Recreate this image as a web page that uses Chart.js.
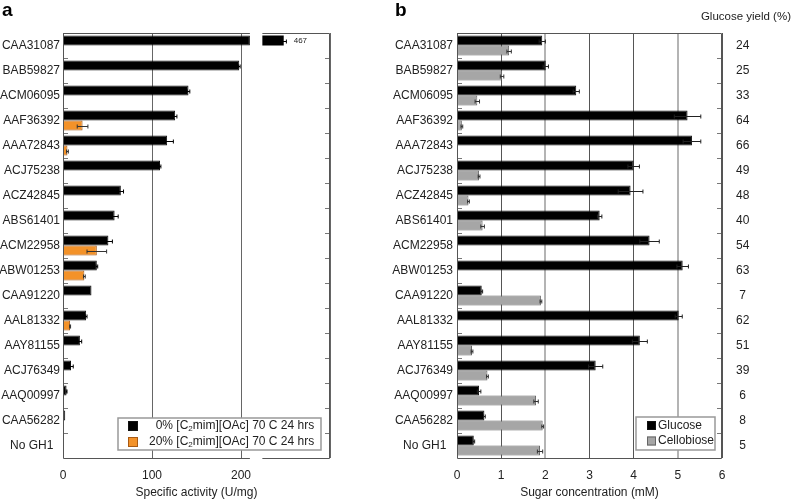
<!DOCTYPE html>
<html>
<head>
<meta charset="utf-8">
<script src="https://cdn.jsdelivr.net/npm/chart.js@4.4.1/dist/chart.umd.min.js"></script>
<style>
  html, body { margin: 0; padding: 0; background: #fff; }
  #wrap { position: relative; width: 794px; height: 500px; }
  canvas { position: absolute; top: 0; }
  #chartA { left: 0; }
  #chartB { left: 392px; }
</style>
</head>
<body>
<div id="wrap">
  <canvas id="chartA" width="392" height="500"></canvas>
  <canvas id="chartB" width="402" height="500"></canvas>
</div>
<script>
// data
const categories = ['CAA31087', 'BAB59827', 'ACM06095', 'AAF36392', 'AAA72843', 'ACJ75238',
  'ACZ42845', 'ABS61401', 'ACM22958', 'ABW01253', 'CAA91220', 'AAL81332', 'AAY81155',
  'ACJ76349', 'AAQ00997', 'CAA56282', 'No GH1'];

// panel a: specific activity (U/mg)
const activity0 = [467, 198, 141, 126, 117, 109, 65, 58, 51, 38, 32, 26, 19, 9, 4, 2.5, 0];
const err0 = [3, 1, 1.5, 2, 7, 1, 3, 4, 4.5, 1, 0, 1, 2, 2.5, 0.5, 0, 0];
const activity20 = [0, 0, 0, 22, 5, 0, 0, 0, 38, 24, 0, 8, 0, 0, 0, 0, 0];
const err20 = [0, 0, 0, 6, 1, 0, 0, 0, 11, 1, 0, 0.5, 0, 0, 0, 0, 0];
const ticksA = [0, 100, 200];
const legendA = ['0% [C₂mim][OAc] 70 C 24 hrs', '20% [C₂mim][OAc] 70 C 24 hrs'];

// panel b: sugar concentration (mM)
const glucose = [1.93, 2.01, 2.70, 5.22, 5.32, 4.00, 3.93, 3.23, 4.36, 5.11, 0.56, 5.02, 4.14, 3.14, 0.50, 0.62, 0.38];
const errGlucose = [0.07, 0.06, 0.07, 0.30, 0.20, 0.13, 0.28, 0.05, 0.22, 0.13, 0.02, 0.08, 0.17, 0.16, 0.04, 0.02, 0.02];
const cellobiose = [1.18, 1.02, 0.46, 0.11, 0, 0.50, 0.26, 0.58, 0, 0, 1.90, 0, 0.34, 0.69, 1.79, 1.94, 1.88];
const errCellobiose = [0.05, 0.04, 0.05, 0.02, 0, 0.02, 0.02, 0.04, 0, 0, 0.02, 0, 0.02, 0.02, 0.05, 0.02, 0.06];
const glucoseYield = ['24', '25', '33', '64', '66', '49', '48', '40', '54', '63', '7', '62', '51', '39', '6', '8', '5'];
const legendB = ['Glucose', 'Cellobiose'];

// axis break on panel a
const breakLow = 210, breakTo = 224, breakResume = 443;
const shown = v => v > breakLow ? breakTo + v - breakResume : v;

const FONT = '"Liberation Sans", Arial, sans-serif';
Chart.defaults.font.family = FONT;
Chart.defaults.font.size = 12;
Chart.defaults.color = '#222';

const colorsA = ['#000000', '#f39229'];
const edgesA = ['#111111', '#a85a14'];
const colorsB = ['#000000', '#a6a6a6'];
const edgesB = ['#111111', '#666666'];

function padLabel(v) {
  const l = this.getLabelForValue(v);
  return l === 'No GH1' ? l + '  ' : l;
}

function drawErrorBars(chart, sets) {
  const { ctx } = chart;
  const xs = chart.scales.x;
  ctx.save();
  ctx.lineWidth = 1;
  sets.forEach(s => {
    const meta = chart.getDatasetMeta(s.index);
    ctx.strokeStyle = s.color;
    meta.data.forEach((bar, i) => {
      const e = s.errors[i];
      if (!e || !s.values[i]) return;
      const c = s.map ? s.map(s.values[i]) : s.values[i];
      const x1 = xs.getPixelForValue(c - e), x2 = xs.getPixelForValue(c + e);
      const y = Math.round(bar.y) + 0.5;
      ctx.beginPath();
      ctx.moveTo(x1, y); ctx.lineTo(x2, y);
      ctx.moveTo(x1, y - 2); ctx.lineTo(x1, y + 2);
      ctx.moveTo(x2, y - 2); ctx.lineTo(x2, y + 2);
      ctx.stroke();
    });
  });
  ctx.restore();
}

function drawRowTicks(chart) {
  const { ctx, chartArea: a } = chart;
  const y = chart.scales.y;
  ctx.save();
  ctx.strokeStyle = '#777';
  ctx.lineWidth = 1;
  for (let i = 0; i < categories.length - 1; i++) {
    const yy = Math.round((y.getPixelForValue(i) + y.getPixelForValue(i + 1)) / 2) + 0.5;
    ctx.beginPath();
    ctx.moveTo(a.left, yy); ctx.lineTo(a.left + 5, yy);
    ctx.moveTo(a.right - 5, yy); ctx.lineTo(a.right, yy);
    ctx.stroke();
  }
  ctx.restore();
}

function drawFrame(chart, gap) {
  const { ctx, chartArea: a } = chart;
  const L = Math.round(a.left) + 0.5, R = Math.round(a.right) - 0.5;
  const T = Math.round(a.top) + 0.5, B = Math.round(a.bottom) + 0.5;
  ctx.save();
  ctx.strokeStyle = '#555';
  ctx.lineWidth = 1;
  ctx.beginPath();
  ctx.moveTo(L, T); ctx.lineTo(L, B);
  ctx.moveTo(R, T); ctx.lineTo(R, B);
  if (gap) {
    ctx.moveTo(L, T); ctx.lineTo(gap[0], T);
    ctx.moveTo(gap[1], T); ctx.lineTo(R, T);
    ctx.moveTo(L, B); ctx.lineTo(gap[0], B);
    ctx.moveTo(gap[1], B); ctx.lineTo(R, B);
  } else {
    ctx.moveTo(L, T); ctx.lineTo(R, T);
    ctx.moveTo(L, B); ctx.lineTo(R, B);
  }
  ctx.stroke();
  ctx.restore();
}

// text with a subscript 2
function subText(ctx, text, x, y, size) {
  const parts = text.split('₂');
  ctx.textBaseline = 'middle';
  ctx.textAlign = 'left';
  parts.forEach((p, k) => {
    ctx.font = size + 'px ' + FONT;
    ctx.fillText(p, x, y);
    x += ctx.measureText(p).width;
    if (k < parts.length - 1) {
      ctx.font = Math.round(size * 0.65) + 'px ' + FONT;
      ctx.fillText('2', x, y + 3);
      x += ctx.measureText('2').width;
    }
  });
}

function legendBox(ctx, x, y, w, h) {
  ctx.fillStyle = '#fff';
  ctx.fillRect(x, y, w, h);
  ctx.strokeStyle = '#999';
  ctx.lineWidth = 1.5;
  ctx.strokeRect(x, y, w, h);
}

const panelA = {
  id: 'panelA',
  afterDatasetsDraw(chart) {
    const { ctx, chartArea: a } = chart;
    const xs = chart.scales.x;
    const meta = chart.getDatasetMeta(0);
    // part of the bar beyond the axis break
    activity0.forEach((v, i) => {
      if (v <= breakLow) return;
      const bar = meta.data[i];
      const x1 = xs.getPixelForValue(breakTo), x2 = xs.getPixelForValue(shown(v));
      ctx.fillStyle = colorsA[0];
      ctx.fillRect(x1, bar.y - bar.height / 2, x2 - x1, bar.height);
      ctx.font = '8px ' + FONT;
      ctx.fillStyle = '#222';
      ctx.textAlign = 'left';
      ctx.textBaseline = 'middle';
      ctx.fillText(String(v), x2 + 10, bar.y);
    });
    drawErrorBars(chart, [
      { index: 0, values: activity0, errors: err0, color: '#000', map: shown },
      { index: 1, values: activity20, errors: err20, color: '#333' }
    ]);
    drawRowTicks(chart);
    drawFrame(chart, [xs.getPixelForValue(breakLow), xs.getPixelForValue(breakTo)]);

    // legend
    const w = 203, h = 32;
    const bx = a.right - 9 - w, by = a.bottom - 8 - h;
    ctx.save();
    legendBox(ctx, bx, by, w, h);
    ctx.font = '12px ' + FONT;
    const widest = ctx.measureText(legendA[1].split(' ')[0]).width;
    legendA.forEach((label, i) => {
      const cy = by + 8 + i * 16;
      ctx.fillStyle = colorsA[i];
      ctx.fillRect(bx + 10, cy - 5, 10, 10);
      ctx.strokeStyle = edgesA[i];
      ctx.lineWidth = 1;
      ctx.strokeRect(bx + 10.5, cy - 4.5, 9, 9);
      ctx.fillStyle = '#222';
      ctx.font = '12px ' + FONT;
      const indent = widest - ctx.measureText(label.split(' ')[0]).width;
      subText(ctx, label, bx + 31 + indent, cy, 12);
    });
    ctx.font = 'bold 19px ' + FONT;
    ctx.fillStyle = '#000';
    ctx.textAlign = 'left';
    ctx.textBaseline = 'alphabetic';
    ctx.fillText('a', 2, 16);
    ctx.restore();
  }
};

const panelB = {
  id: 'panelB',
  afterDatasetsDraw(chart) {
    const { ctx, chartArea: a } = chart;
    drawErrorBars(chart, [
      { index: 0, values: glucose, errors: errGlucose, color: '#222' },
      { index: 1, values: cellobiose, errors: errCellobiose, color: '#333' }
    ]);
    drawRowTicks(chart);
    drawFrame(chart, null);

    const w = 79, h = 33;
    const bx = a.right - 7 - w, by = a.bottom - 8 - h;
    ctx.save();
    legendBox(ctx, bx, by, w, h);
    legendB.forEach((label, i) => {
      const cy = by + 8.5 + i * 15.5;
      ctx.fillStyle = colorsB[i];
      ctx.fillRect(bx + 11, cy - 4.5, 9, 9);
      ctx.strokeStyle = edgesB[i];
      ctx.lineWidth = 1;
      ctx.strokeRect(bx + 11.5, cy - 4, 8, 8);
      ctx.fillStyle = '#222';
      ctx.font = '12px ' + FONT;
      ctx.textAlign = 'left';
      ctx.textBaseline = 'middle';
      ctx.fillText(label, bx + 22, cy);
    });
    ctx.font = 'bold 19px ' + FONT;
    ctx.fillStyle = '#000';
    ctx.textBaseline = 'alphabetic';
    ctx.fillText('b', 3, 16);
    ctx.font = '11.5px ' + FONT;
    ctx.fillStyle = '#222';
    ctx.textAlign = 'right';
    ctx.textBaseline = 'middle';
    ctx.fillText('Glucose yield (%)', 399, 17);
    ctx.restore();
  }
};

new Chart(document.getElementById('chartA'), {
  type: 'bar',
  data: {
    labels: categories,
    datasets: [
      { label: legendA[0], data: activity0.map(v => Math.min(v, breakLow)),
        backgroundColor: colorsA[0], borderColor: edgesA[0], borderWidth: 1 },
      { label: legendA[1], data: activity20,
        backgroundColor: colorsA[1], borderColor: edgesA[1], borderWidth: 1 }
    ]
  },
  options: {
    indexAxis: 'y',
    responsive: false,
    animation: false,
    layout: { padding: { left: 0, right: 62, top: 33, bottom: 0 } },
    datasets: { bar: { categoryPercentage: 0.8, barPercentage: 1.0 } },
    plugins: { legend: { display: false }, tooltip: { enabled: false } },
    scales: {
      x: {
        min: 0, max: 300,
        afterBuildTicks: s => { s.ticks = [0, 100, 200, 300].map(v => ({ value: v })); },
        ticks: { padding: 10, callback: v => ticksA.includes(v) ? String(v) : '' },
        grid: { color: '#666', drawTicks: false },
        border: { display: false },
        title: { display: true, text: 'Specific activity (U/mg)', padding: { top: 0, bottom: 0 } },
        afterFit: s => { s.height = 42; }
      },
      y: {
        ticks: { padding: 3, autoSkip: false, callback: padLabel },
        grid: { display: false, drawTicks: false },
        border: { display: false },
        afterFit: s => { s.width = 63; }
      }
    }
  },
  plugins: [panelA]
});

new Chart(document.getElementById('chartB'), {
  type: 'bar',
  data: {
    labels: categories,
    datasets: [
      { label: legendB[0], data: glucose,
        backgroundColor: colorsB[0], borderColor: edgesB[0], borderWidth: 1 },
      { label: legendB[1], data: cellobiose,
        backgroundColor: colorsB[1], borderColor: edgesB[1], borderWidth: 1 }
    ]
  },
  options: {
    indexAxis: 'y',
    responsive: false,
    animation: false,
    layout: { padding: { left: 0, right: 32, top: 33, bottom: 0 } },
    datasets: { bar: { categoryPercentage: 0.8, barPercentage: 1.0 } },
    plugins: { legend: { display: false }, tooltip: { enabled: false } },
    scales: {
      x: {
        min: 0, max: 6,
        ticks: { stepSize: 1, padding: 10 },
        grid: {
          drawTicks: false,
          color: c => (c.tick && (c.tick.value === 2 || c.tick.value === 5)) ? '#b4b4b4' : '#555',
          lineWidth: c => (c.tick && (c.tick.value === 2 || c.tick.value === 5)) ? 2 : 1
        },
        border: { display: false },
        title: { display: true, text: 'Sugar concentration (mM)', padding: { top: 0, bottom: 0 } },
        afterFit: s => { s.height = 42; }
      },
      y: {
        ticks: { padding: 4, autoSkip: false, callback: padLabel },
        grid: { display: false, drawTicks: false },
        border: { display: false },
        afterFit: s => { s.width = 65; }
      },
      y2: {
        type: 'category',
        position: 'right',
        labels: glucoseYield,
        offset: true,
        ticks: { padding: 14, crossAlign: 'center', autoSkip: false },
        grid: { display: false, drawTicks: false },
        border: { display: false },
        afterFit: s => { s.width = 40; }
      }
    }
  },
  plugins: [panelB]
});
</script>
</body>
</html>
